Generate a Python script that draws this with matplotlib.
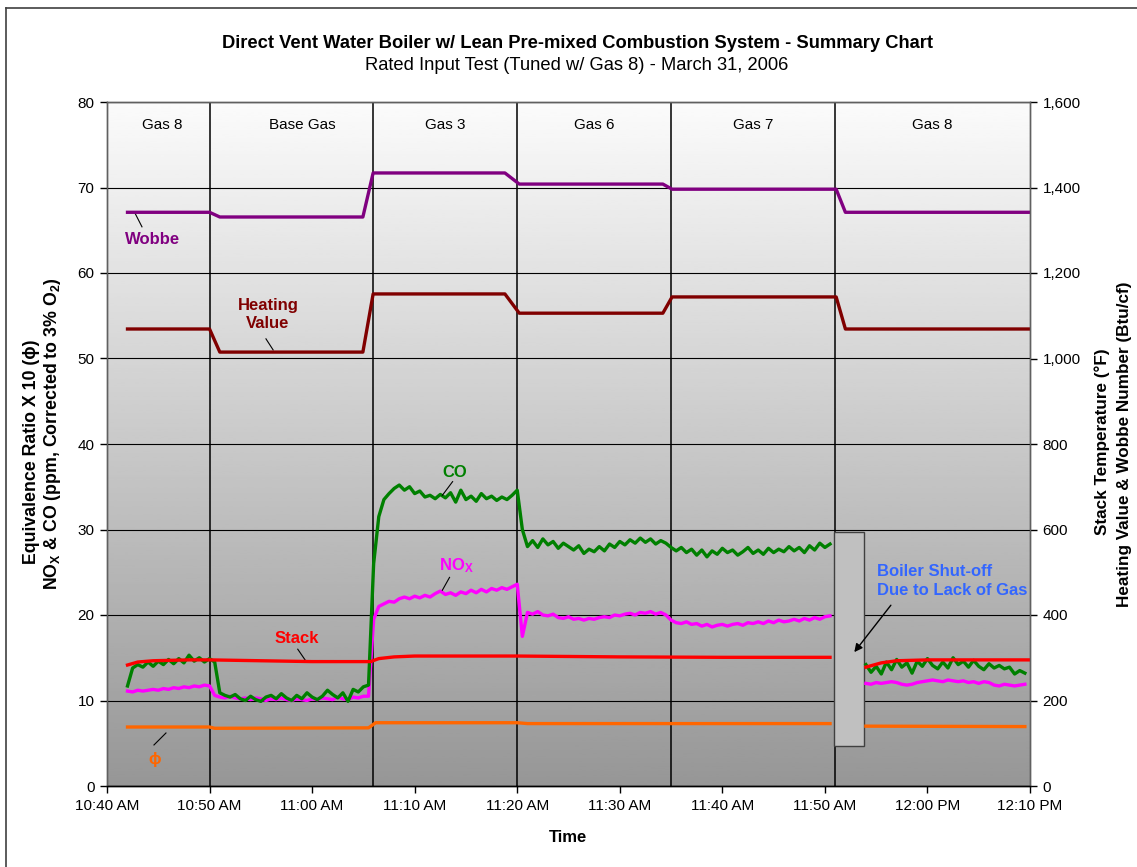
import numpy as np
import matplotlib.pyplot as plt
from matplotlib.patches import Rectangle
from matplotlib.lines import Line2D

plt.rcParams['font.family'] = ['Liberation Sans', 'DejaVu Sans']

# time axis: minutes after 10:40 AM
tick_minutes = [0, 10, 20, 30, 40, 50, 60, 70, 80, 90]
tick_labels = ['10:40 AM', '10:50 AM', '11:00 AM', '11:10 AM', '11:20 AM',
               '11:30 AM', '11:40 AM', '11:50 AM', '12:00 PM', '12:10 PM']

# gas changes and labels
gas_changes = [10, 25.9, 40, 55, 71]
gas_names = ['Gas 8', 'Base Gas', 'Gas 3', 'Gas 6', 'Gas 7', 'Gas 8']
gas_label_t = [5.4, 19.0, 33.0, 47.5, 63.0, 80.5]

# boiler shut-off period (no data)
shutoff_start, shutoff_end = 70.9, 73.8

# CO and NOx sampled every 0.5 min, first run starts 10:42, second 11:54
run1_start, run2_start, step = 2.0, 74.0, 0.5
co_run1 = [11.7, 13.8, 14.2, 13.9, 14.5, 14.0, 14.6, 14.2, 14.8, 14.3,
           14.9, 14.4, 15.3, 14.6, 15.0, 14.5, 14.9, 14.5, 10.9, 10.6,
           10.4, 10.7, 10.2, 10.0, 10.5, 10.1, 9.9, 10.4, 10.6, 10.2,
           10.8, 10.3, 10.0, 10.6, 10.2, 10.9, 10.4, 10.1, 10.5, 11.2,
           10.7, 10.3, 10.9, 9.9, 11.3, 11.0, 11.6, 11.8, 26.0, 31.5,
           33.5, 34.2, 34.8, 35.2, 34.6, 35.0, 34.2, 34.5, 33.8, 34.0,
           33.6, 34.1, 33.7, 34.3, 33.2, 34.6, 33.5, 33.9, 33.3, 34.2,
           33.6, 33.9, 33.4, 33.8, 33.5, 34.0, 34.6, 30.0, 28.0, 28.7,
           27.9, 28.9, 28.2, 28.6, 27.8, 28.4, 28.0, 27.6, 28.1, 27.2,
           27.7, 27.4, 28.0, 27.5, 28.3, 27.9, 28.6, 28.2, 28.8, 28.4,
           29.0, 28.5, 28.9, 28.3, 28.7, 28.4, 27.9, 27.5, 27.9, 27.3,
           27.7, 27.0, 27.6, 26.8, 27.5, 27.1, 27.8, 27.3, 27.6, 27.0,
           27.4, 27.9, 27.2, 27.6, 27.1, 27.8, 27.3, 27.7, 27.4, 28.0,
           27.5, 27.9, 27.3, 28.1, 27.6, 28.4, 27.9, 28.3]
co_run2 = [14.2, 13.3, 14.0, 13.1, 14.5, 13.6, 14.8, 13.9, 14.4, 13.2,
           14.6, 14.0, 14.9, 14.1, 13.7, 14.5, 13.8, 15.0, 14.2, 14.6,
           13.9, 14.7, 14.0, 13.6, 14.3, 13.8, 14.1, 13.7, 13.9, 13.1,
           13.5, 13.2]
nox_run1 = [11.1, 11.0, 11.2, 11.1, 11.2, 11.3, 11.2, 11.4, 11.3, 11.5,
            11.4, 11.6, 11.5, 11.7, 11.6, 11.8, 11.7, 10.6, 10.4, 10.3,
            10.5, 10.3, 10.2, 10.3, 10.1, 10.3, 10.2, 10.0, 10.2, 10.1,
            10.3, 10.1, 10.0, 10.2, 10.1, 10.0, 10.2, 10.1, 10.3, 10.2,
            10.1, 10.4, 10.2, 10.1, 10.4, 10.3, 10.5, 10.5, 19.5, 21.0,
            21.3, 21.6, 21.5, 21.9, 22.1, 21.9, 22.2, 22.0, 22.3, 22.1,
            22.5, 22.8, 22.4, 22.6, 22.3, 22.7, 22.5, 22.9, 22.6, 23.0,
            22.7, 23.1, 22.9, 23.2, 23.0, 23.3, 23.6, 17.5, 20.3, 20.1,
            20.4, 20.0, 19.9, 20.1, 19.7, 19.6, 19.8, 19.5, 19.6, 19.4,
            19.6, 19.5, 19.7, 19.8, 19.7, 20.0, 19.9, 20.1, 20.2, 20.0,
            20.3, 20.2, 20.4, 20.1, 20.3, 20.0, 19.4, 19.1, 19.0, 19.2,
            18.9, 19.0, 18.7, 18.9, 18.6, 18.8, 18.9, 18.7, 18.9, 19.0,
            18.8, 19.1, 19.0, 19.2, 19.0, 19.3, 19.1, 19.4, 19.2, 19.3,
            19.5, 19.3, 19.6, 19.4, 19.7, 19.5, 19.8, 19.9]
nox_run2 = [12.0, 11.9, 12.1, 12.0, 12.1, 12.2, 12.1, 11.9, 11.8, 11.9,
            12.1, 12.2, 12.3, 12.4, 12.3, 12.2, 12.4, 12.3, 12.2, 12.3,
            12.1, 12.2, 12.0, 12.2, 12.1, 11.8, 11.7, 11.9, 11.8, 11.7,
            11.8, 11.9]

# equivalence ratio x 10 (left axis)
phi_t1 = [2, 10, 10.5, 25.5, 26.2, 40, 41, 70.5]
phi_v1 = [6.9, 6.9, 6.75, 6.8, 7.4, 7.4, 7.3, 7.3]
phi_t2 = [74, 89.5]
phi_v2 = [7.0, 6.95]

# stack temperature, F (right axis)
stack_t1 = [2, 3, 4.5, 8, 10, 15, 20, 25.7, 26.5, 28, 30, 40, 50, 60, 70.5]
stack_v1 = [283, 290, 293, 295, 295, 293, 291, 291, 298, 302, 304, 304, 302, 301, 301]
stack_t2 = [74, 75.5, 77, 80, 90]
stack_v2 = [278, 288, 293, 295, 295]

# heating value and wobbe number, Btu/cf (right axis)
fuel_t = [2, 10, 11, 24.95, 25.95, 38.8, 40.2, 54.2, 55.1, 71.1, 72, 90]
wobbe = [1342, 1342, 1331, 1331, 1434, 1434, 1408, 1408, 1396, 1396, 1342, 1342]
heating = [1069, 1069, 1015, 1015, 1151, 1151, 1106, 1106, 1144, 1144, 1069, 1069]

fig = plt.figure(figsize=(11.37, 8.67), dpi=100)
fig.add_artist(Line2D([6/1137, 1], [1-8/867, 1-8/867], color='#404040', lw=1.2))
fig.add_artist(Line2D([6/1137, 6/1137], [0, 1-8/867], color='#404040', lw=1.2))

ax = fig.add_axes([107/1137, 81/867, 923/1137, 684/867])
ax2 = ax.twinx()

# gray gradient plot area
grad = np.linspace(0.59, 0.985, 256).reshape(-1, 1)
ax.imshow(grad, extent=[0, 90, 0, 80], origin='lower', cmap='gray',
          vmin=0, vmax=1, aspect='auto', zorder=0)

ax.set_xlim(0, 90)
ax.set_ylim(0, 80)
ax2.set_ylim(0, 1600)
ax.set_xticks(tick_minutes)
ax.set_xticklabels(tick_labels)
ax.set_yticks(range(0, 81, 10))
ax2.set_yticks(range(0, 1601, 200))
ax2.set_yticklabels([f'{v:,}' for v in range(0, 1601, 200)])
for a in (ax, ax2):
    a.tick_params(direction='out', length=5, width=1, labelsize=11, pad=4)
    for name, s in a.spines.items():
        s.set_color('black' if name == 'bottom' else '#606060')
        s.set_linewidth(1)
ax.yaxis.grid(True, color='black', lw=0.8)
ax.set_axisbelow(False)

for t in gas_changes:
    ax.axvline(t, color='black', lw=1.1, zorder=2)
for t, name in zip(gas_label_t, gas_names):
    ax.text(t, 77.3, name, ha='center', va='center', fontsize=11, zorder=5)

ax.add_patch(Rectangle((shutoff_start, 4.7), shutoff_end - shutoff_start, 25.0,
                       facecolor='#c0c0c0', edgecolor='#404040', lw=1, zorder=3))

lw = 2.4
tc1 = run1_start + step * np.arange(len(co_run1))
tc2 = run2_start + step * np.arange(len(co_run2))
tn1 = run1_start + step * np.arange(len(nox_run1))
tn2 = run2_start + step * np.arange(len(nox_run2))
ax.plot(phi_t1, phi_v1, color='#ff6600', lw=lw, zorder=4)
ax.plot(phi_t2, phi_v2, color='#ff6600', lw=lw, zorder=4)
ax.plot(tn1, nox_run1, color='#ff00ff', lw=lw, zorder=4)
ax.plot(tn2, nox_run2, color='#ff00ff', lw=lw, zorder=4)
ax.plot(tc1, co_run1, color='#008000', lw=lw, zorder=4)
ax.plot(tc2, co_run2, color='#008000', lw=lw, zorder=4)
ax2.plot(stack_t1, stack_v1, color='#ff0000', lw=lw)
ax2.plot(stack_t2, stack_v2, color='#ff0000', lw=lw)
ax2.plot(fuel_t, wobbe, color='#800080', lw=lw)
ax2.plot(fuel_t, heating, color='#800000', lw=lw)

# series labels with leader lines
labels = [
    ('Wobbe', '#800080', (4.4, 63.9), (2.73, 67.0), (3.41, 65.4)),
    ('Heating\nValue', '#800000', (15.7, 55.1), (15.5, 52.3), (16.2, 51.0)),
    ('CO', '#008000', (33.9, 36.7), (33.7, 35.6), (32.7, 34.0)),
    (r'$\mathregular{NO_X}$', '#ff00ff', (34.1, 25.8), (33.4, 24.4), (32.7, 22.9)),
    ('Stack', '#ff0000', (18.5, 17.3), (18.6, 16.0), (19.4, 14.6)),
    ('ϕ', '#ff6600', (4.68, 3.1), (4.58, 4.8), (5.75, 6.2)),
]
for txt, col, pos, p1, p2 in labels:
    ax.text(pos[0], pos[1], txt, color=col, fontsize=12, fontweight='bold',
            ha='center', va='center', zorder=6, linespacing=1.25)
    ax.plot([p1[0], p2[0]], [p1[1], p2[1]], color='black', lw=0.8, zorder=6)

ax.text(75.05, 24.0, 'Boiler Shut-off\nDue to Lack of Gas', color='#3366ff',
        fontsize=12, fontweight='bold', ha='left', va='center', zorder=6,
        linespacing=1.35)
ax.annotate('', xy=(72.7, 15.4), xytext=(76.6, 21.4),
            arrowprops=dict(arrowstyle='-|>', color='black', lw=1,
                            mutation_scale=12), zorder=6)

# titles and axis labels
fig.text(577/1137, 1-43/867,
         'Direct Vent Water Boiler w/ Lean Pre-mixed Combustion System - Summary Chart',
         ha='center', va='center', fontsize=13.2, fontweight='bold')
fig.text(577/1137, 1-66/867, 'Rated Input Test (Tuned w/ Gas 8) - March 31, 2006',
         ha='center', va='center', fontsize=13.2)
fig.text(568/1137, 1-838/867, 'Time', ha='center', va='center',
         fontsize=12, fontweight='bold')
fig.text(32/1137, 1-452/867, 'Equivalence Ratio X 10 (ϕ)', rotation=90,
         ha='center', va='center', fontsize=12.8, fontweight='bold')
fig.text(53/1137, 1-434/867,
         r'$\mathregular{NO_X}$ & CO (ppm, Corrected to 3% $\mathregular{O_2}$)',
         rotation=90, ha='center', va='center', fontsize=12.8, fontweight='bold')
fig.text(1102/1137, 1-442/867, 'Stack Temperature (°F)', rotation=90,
         ha='center', va='center', fontsize=12.3, fontweight='bold')
fig.text(1124/1137, 1-444/867, 'Heating Value & Wobbe Number (Btu/cf)',
         rotation=90, ha='center', va='center', fontsize=12.3, fontweight='bold')

fig.savefig('out.png', dpi=100)
